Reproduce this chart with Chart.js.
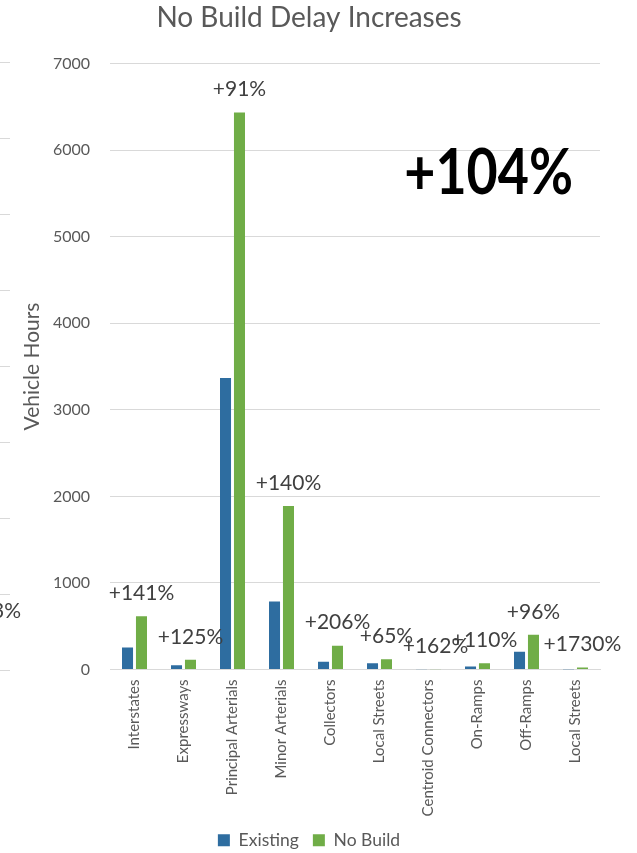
<!DOCTYPE html>
<html>
<head>
<meta charset="utf-8">
<script src="https://cdn.jsdelivr.net/npm/chart.js@4"></script>
<style>
html,body{margin:0;padding:0;background:#fff;}
#wrap{width:637px;height:853px;position:relative;}
</style>
</head>
<body>
<div id="wrap"><canvas id="c" width="637" height="853"></canvas></div>
<script>
const categories = ["Interstates","Expressways","Principal Arterials","Minor Arterials","Collectors","Local Streets","Centroid Connectors","On-Ramps","Off-Ramps","Local Streets"];
const existing = [255, 50, 3368, 787, 90, 72, 1.5, 35, 205, 1.3];
const noBuild  = [615, 112, 6435, 1889, 275, 119, 3.9, 73, 401, 23.8];
const increaseLabels = ["+141%","+125%","+91%","+140%","+206%","+65%","+162%","+110%","+96%","+1730%"];
const yTicks = [0,1000,2000,3000,4000,5000,6000,7000];
const totalIncrease = "+104%";
const neighborFragment = "3%";

const FONT = "Lato, 'Open Sans', sans-serif";

const decorPlugin = {
  id: 'decor',
  afterDatasetsDraw(chart) {
    const ctx = chart.ctx;
    const ca = chart.chartArea;
    const metaNB = chart.getDatasetMeta(1);
    ctx.save();
    // percentage labels above the No Build bars
    ctx.font = "21px " + FONT;
    ctx.fillStyle = "#404040";
    ctx.textAlign = "center";
    ctx.textBaseline = "middle";
    metaNB.data.forEach((bar, i) => {
      ctx.fillText(increaseLabels[i], bar.x, bar.y - 23);
    });
    // big total increase
    ctx.save();
    ctx.font = "bold 64px " + FONT;
    ctx.fillStyle = "#000000";
    ctx.textAlign = "right";
    ctx.textBaseline = "middle";
    const sx = 0.84;
    ctx.translate(ca.right - 27, 173);
    ctx.scale(sx, 1);
    ctx.fillText(totalIncrease, 0, 0);
    ctx.restore();
    // fragments of neighbouring chart at left edge
    ctx.strokeStyle = "#D9D9D9";
    ctx.lineWidth = 1;
    for (let k = 0; k <= 8; k++) {
      const y = Math.round(ca.bottom - k * (ca.bottom - 62) / 8) + 0.5;
      ctx.beginPath(); ctx.moveTo(0, y); ctx.lineTo(10, y); ctx.stroke();
    }
    ctx.font = "21px " + FONT;
    ctx.fillStyle = "#404040";
    ctx.textAlign = "right";
    ctx.textBaseline = "middle";
    ctx.fillText(neighborFragment, 21, 611);
    ctx.restore();
  }
};

new Chart(document.getElementById('c'), {
  type: 'bar',
  data: {
    labels: categories,
    datasets: [
      { label: 'Existing', data: existing, backgroundColor: '#2E6DA0', categoryPercentage: 0.57, barPercentage: 0.79 },
      { label: 'No Build', data: noBuild, backgroundColor: '#70AD47', categoryPercentage: 0.57, barPercentage: 0.79 }
    ]
  },
  options: {
    responsive: false,
    animation: false,
    layout: { padding: { left: 18, right: 37, top: 0, bottom: -6 } },
    plugins: {
      title: {
        display: true,
        text: 'No Build Delay Increases',
        color: '#595959',
        font: { family: FONT, size: 28, weight: 'normal' },
        padding: { top: 1, bottom: 29 }
      },
      legend: {
        position: 'bottom',
        labels: {
          color: '#595959',
          font: { family: FONT, size: 17.5 },
          boxWidth: 12, boxHeight: 12,
          padding: 14
        }
      },
      tooltip: { enabled: false }
    },
    scales: {
      x: {
        grid: { display: false, drawTicks: false },
        border: { display: true, color: '#D9D9D9' },
        ticks: {
          color: '#595959',
          font: { family: FONT, size: 15 },
          minRotation: 90, maxRotation: 90,
          autoSkip: false,
          padding: 10
        },
        afterFit: s => { s.height = 148; }
      },
      y: {
        min: 0, max: 7000,
        afterBuildTicks: s => { s.ticks = yTicks.map(v => ({ value: v })); },
        grid: { color: '#D9D9D9', drawTicks: false },
        border: { display: false },
        ticks: {
          color: '#595959',
          font: { family: FONT, size: 16 },
          padding: 20,
          callback: v => String(v)
        },
        title: {
          display: true,
          text: 'Vehicle Hours',
          color: '#595959',
          font: { family: FONT, size: 21 },
          padding: { top: 2, bottom: 0 }
        },
        afterFit: s => { s.width = 92; }
      }
    }
  },
  plugins: [decorPlugin]
});
</script>
</body>
</html>
